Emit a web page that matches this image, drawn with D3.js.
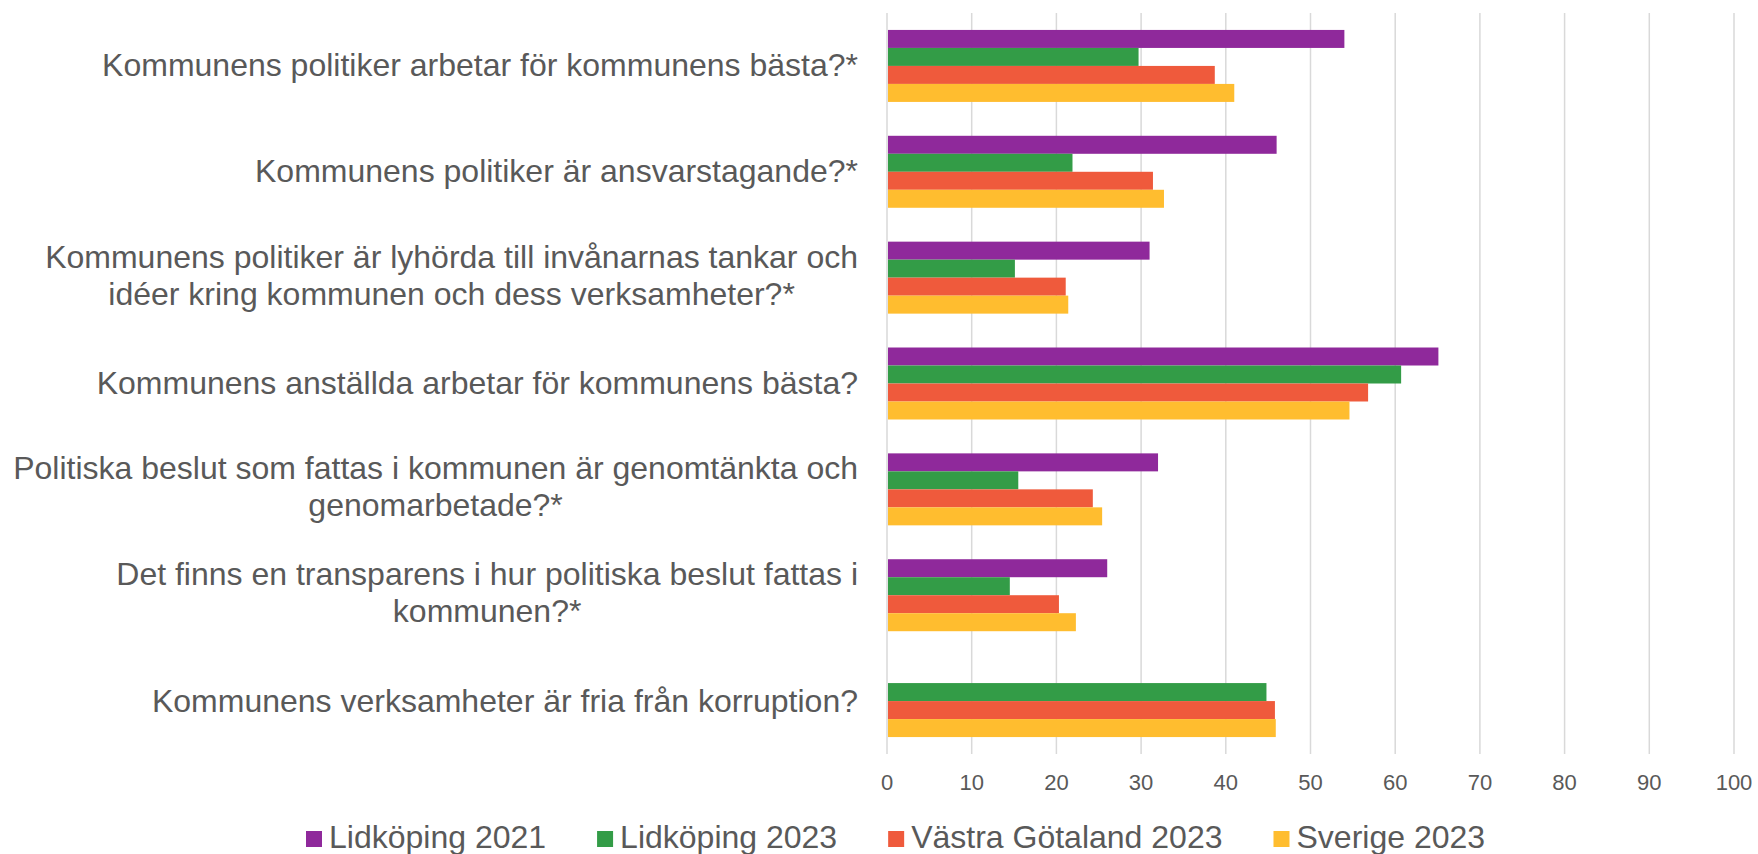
<!DOCTYPE html>
<html>
<head>
<meta charset="utf-8">
<script src="https://cdn.jsdelivr.net/npm/d3@7"></script>
<style>
  html, body { margin: 0; padding: 0; background: #fff; }
  svg { display: block; font-family: "Liberation Sans", Arial, sans-serif; }
</style>
</head>
<body>
<svg id="chart" width="1758" height="854"></svg>
<script>
// ---- data ----
const categories = [
  ["Kommunens politiker arbetar för kommunens bästa?*"],
  ["Kommunens politiker är ansvarstagande?*"],
  ["Kommunens politiker är lyhörda till invånarnas tankar och", "idéer kring kommunen och dess verksamheter?*"],
  ["Kommunens anställda arbetar för kommunens bästa?"],
  ["Politiska beslut som fattas i kommunen är genomtänkta och", "genomarbetade?*"],
  ["Det finns en transparens i hur politiska beslut fattas i", "kommunen?*"],
  ["Kommunens verksamheter är fria från korruption?"]
];
const seriesNames = ["Lidköping 2021", "Lidköping 2023", "Västra Götaland 2023", "Sverige 2023"];
const lidkoping2021 = [54.0, 46.0, 31.0, 65.1, 32.0, 26.0, null];
const lidkoping2023 = [29.7, 21.9, 15.1, 60.7, 15.5, 14.5, 44.8];
const vastraGotaland2023 = [38.7, 31.4, 21.1, 56.8, 24.3, 20.3, 45.8];
const sverige2023 = [41.0, 32.7, 21.4, 54.6, 25.4, 22.3, 45.9];
const seriesValues = [lidkoping2021, lidkoping2023, vastraGotaland2023, sverige2023];
const seriesColors = ["#8F299B", "#339C47", "#EF5A3C", "#FFBD2F"];
const xTicks = [0, 10, 20, 30, 40, 50, 60, 70, 80, 90, 100];

// ---- layout ----
const svg = d3.select("#chart");
const textColor = "#595959";
const plotTop = 13, plotBottom = 754, x0 = 887, x1 = 1734;

const x = d3.scaleLinear().domain([0, 100]).range([x0, x1]);
const catIdx = categories.map((_, i) => i);
const y = d3.scaleBand().domain(catIdx).range([plotTop, plotBottom])
  .paddingInner(0.32).paddingOuter(0.16);
const ySub = d3.scaleBand().domain(d3.range(seriesNames.length)).range([0, y.bandwidth()]);

// gridlines
svg.append("g").selectAll("line").data(xTicks).join("line")
  .attr("x1", d => x(d)).attr("x2", d => x(d))
  .attr("y1", plotTop).attr("y2", plotBottom)
  .attr("stroke", "#D9D9D9").attr("stroke-width", 1.5);

// bars
const groups = svg.append("g").selectAll("g").data(catIdx).join("g")
  .attr("transform", d => `translate(0,${y(d)})`);
groups.selectAll("rect")
  .data(ci => seriesValues.map((vals, si) => ({si, v: vals[ci]})).filter(d => d.v !== null))
  .join("rect")
  .attr("x", x(0) + 1)
  .attr("y", d => ySub(d.si))
  .attr("width", d => Math.max(0, x(d.v) - x(0) - 1))
  .attr("height", ySub.bandwidth())
  .attr("fill", d => seriesColors[d.si]);

// x tick labels
svg.append("g").selectAll("text").data(xTicks).join("text")
  .attr("x", d => x(d)).attr("y", 790)
  .attr("text-anchor", "middle")
  .attr("font-size", 22).attr("fill", textColor)
  .text(d => d);

// category labels (right-aligned block, lines centered within block)
const labelRight = 858, fontSize = 32, lineH = 37;
const labelG = svg.append("g");
categories.forEach((lines, i) => {
  const g = labelG.append("g");
  const texts = lines.map(l => g.append("text")
    .attr("font-size", fontSize).attr("fill", textColor)
    .attr("text-anchor", "middle").text(l));
  const maxW = d3.max(texts, t => t.node().getComputedTextLength());
  const cx = labelRight - maxW / 2;
  const cy = y(i) + y.bandwidth() / 2 - (lines.length > 1 ? 3 : 1);
  const startY = cy - (lines.length - 1) * lineH / 2;
  texts.forEach((t, k) => t.attr("x", cx).attr("y", startY + k * lineH).attr("dy", "0.36em"));
});

// legend
const legend = svg.append("g");
let lx = 306;
seriesNames.forEach((name, i) => {
  legend.append("rect").attr("x", lx).attr("y", 831).attr("width", 16).attr("height", 16)
    .attr("fill", seriesColors[i]);
  const t = legend.append("text").attr("x", lx + 23).attr("y", 848)
    .attr("font-size", 32).attr("fill", textColor).text(name);
  lx += 23 + t.node().getComputedTextLength() + 51;
});
</script>
</body>
</html>
